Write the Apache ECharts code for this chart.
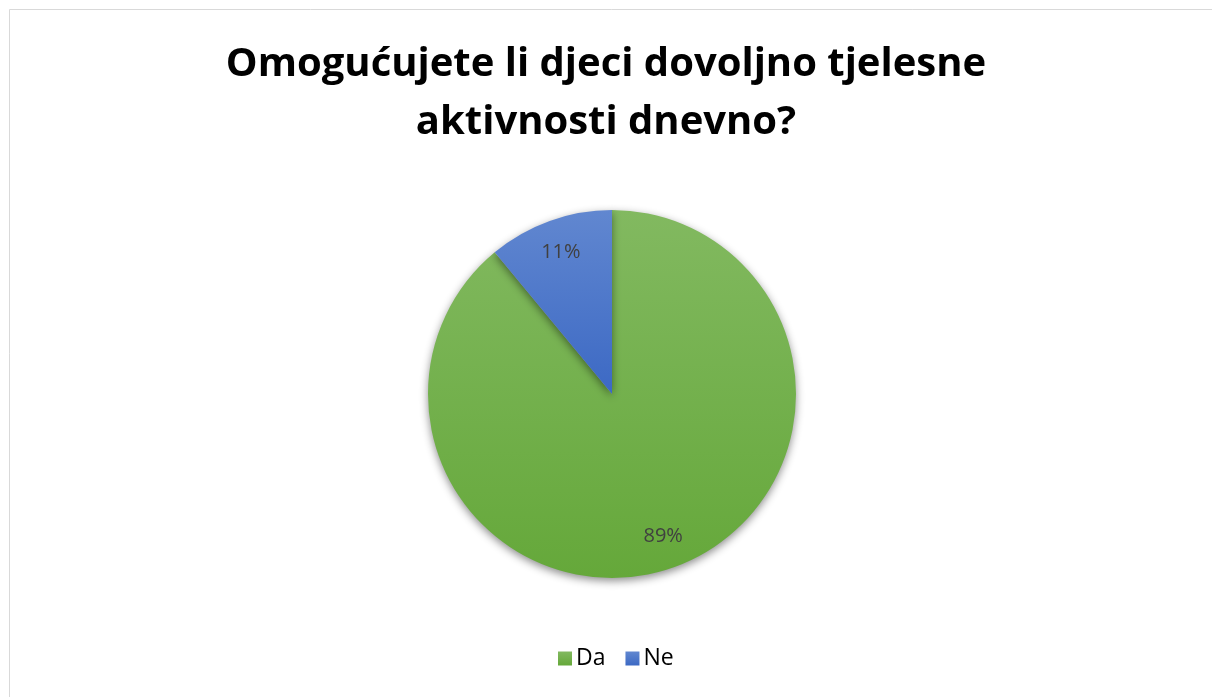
<!DOCTYPE html>
<html>
<head>
<meta charset="utf-8">
<script src="https://cdn.jsdelivr.net/npm/echarts@6/dist/echarts.min.js"></script>
<style>
html,body{margin:0;padding:0;background:#fff;}
#c{width:1212px;height:697px;}
</style>
</head>
<body>
<div id="c"></div>
<script>
const titleText = "Omogućujete li djeci dovoljno tjelesne\naktivnosti dnevno?";
const categories = ["Da", "Ne"];
const values = [89, 11];

const colors = [
  {top: "#82B960", bottom: "#65A83A"},
  {top: "#6187D0", bottom: "#3C69C4"}
];

const chart = echarts.init(document.getElementById('c'));
const data = categories.map((name, i) => ({
  name: name,
  value: values[i],
  itemStyle: {
    color: {
      type: 'linear', x: 0, y: 0, x2: 0, y2: 1,
      colorStops: [{offset: 0, color: colors[i].top}, {offset: 1, color: colors[i].bottom}]
    }
  }
}));

chart.setOption({
  backgroundColor: '#ffffff',
  animation: false,
  graphic: [{
    type: 'rect',
    shape: {x: 9.5, y: 9.5, width: 1220, height: 700},
    style: {fill: 'none', stroke: '#d9d9d9', lineWidth: 1},
    silent: true
  }],
  title: {
    text: titleText,
    left: 'center',
    top: 31,
    textStyle: {
      fontFamily: 'Open Sans',
      fontWeight: 'bold',
      fontSize: 40,
      lineHeight: 58,
      color: '#000000'
    }
  },
  legend: {
    data: categories,
    bottom: 22,
    left: 553,
    icon: 'rect',
    itemWidth: 14,
    itemHeight: 14,
    itemGap: 20,
    textStyle: {fontFamily: 'Open Sans', fontSize: 23, color: '#000000', padding: [0, 0, 0, -1]}
  },
  series: [{
    type: 'pie',
    center: [612, 394],
    radius: [0, 184],
    startAngle: 90,
    clockwise: true,
    label: {show: false},
    labelLine: {show: false},
    itemStyle: {
      shadowColor: 'rgba(0,0,0,0.45)',
      shadowBlur: 8,
      shadowOffsetY: 3
    },
    emphasis: {disabled: true},
    data: data
  }, {
    type: 'pie',
    center: [612, 394],
    radius: [112, 184],
    startAngle: 90,
    clockwise: true,
    silent: true,
    itemStyle: {color: 'rgba(0,0,0,0)'},
    label: {
      show: true,
      position: 'inside',
      formatter: '{c}%',
      fontFamily: 'Open Sans',
      fontSize: 20,
      color: '#404040'
    },
    labelLine: {show: false},
    emphasis: {disabled: true},
    data: categories.map((name, i) => ({name: name, value: values[i]}))
  }]
});
</script>
</body>
</html>
